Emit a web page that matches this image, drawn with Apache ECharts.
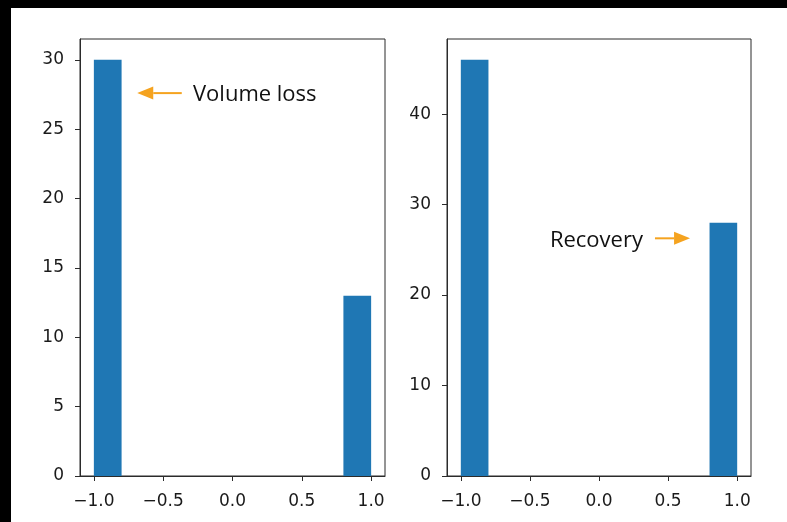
<!DOCTYPE html>
<html>
<head>
<meta charset="utf-8">
<script src="https://cdn.jsdelivr.net/npm/echarts@6/dist/echarts.min.js"></script>
<style>
  html { margin: 0; padding: 0; background: #fff; width: 100%; height: 100%; }
  body { margin: 0; padding: 0; background: #fff; width: 100%; height: 100%; position: relative; }
  #chart { position: absolute; left: 11px; top: 8px; width: 776px; height: 514px; background: #fff; }
  .edge { position: absolute; background: #000; }
</style>
</head>
<body>
<div class="edge" style="left:0;top:0;width:787px;height:8px"></div>
<div class="edge" style="left:0;top:0;width:11px;height:522px"></div>
<div id="chart"></div>
<script>
// Histogram bin edges shared by both panels
const binEdges = [-1.0, -0.8, -0.6, -0.4, -0.2, 0.0, 0.2, 0.4, 0.6, 0.8, 1.0];
// Counts per bin
const lossCounts = [30, 0, 0, 0, 0, 0, 0, 0, 0, 13];
const recoveryCounts = [46, 0, 0, 0, 0, 0, 0, 0, 0, 28];
// Tick values
const xTicks = [-1.0, -0.5, 0.0, 0.5, 1.0];
const lossYTicks = [0, 5, 10, 15, 20, 25, 30];
const recoveryYTicks = [0, 10, 20, 30, 40];
// Annotations in data coordinates of their panel
const lossNote = { text: 'Volume loss', tip: [-0.687, 27.6], tail: [-0.366, 27.6], textX: -0.285, side: 'right' };
const recoveryNote = { text: 'Recovery', tip: [0.659, 26.27], tail: [0.405, 26.27], textX: 0.318, side: 'left' };

const BAR = '#1f77b4';
const INK = '#1a1a1a';
const SPINE = '#2b2b2b';
const ORANGE = '#f5a31f';
const TICK_FONT = 'DejaVu Sans';

function bins(counts) {
  return counts.map((c, i) => [binEdges[i], binEdges[i + 1], c]);
}

function fmtX(v) {
  return v.toFixed(1).replace('-', '\u2212');
}

function xAxis(gridIndex) {
  return {
    type: 'value', gridIndex, min: -1.1, max: 1.1,
    splitLine: { show: false },
    axisLine: { show: true, lineStyle: { color: SPINE, width: 1 } },
    axisTick: { show: true, length: 5, customValues: xTicks, lineStyle: { color: SPINE, width: 1 } },
    axisLabel: { customValues: xTicks, formatter: fmtX, margin: 17, color: INK, fontFamily: TICK_FONT, fontSize: 17 }
  };
}

function yAxis(gridIndex, max, ticks) {
  return {
    type: 'value', gridIndex, min: 0, max,
    splitLine: { show: false },
    axisLine: { show: true, onZero: false, lineStyle: { color: SPINE, width: 1 } },
    axisTick: { show: true, length: 5, customValues: ticks, lineStyle: { color: SPINE, width: 1 } },
    axisLabel: { customValues: ticks, margin: 16, color: INK, fontFamily: TICK_FONT, fontSize: 17 }
  };
}

function histSeries(idx, counts) {
  return {
    type: 'custom', xAxisIndex: idx, yAxisIndex: idx,
    data: bins(counts),
    encode: { x: [0, 1], y: 2 },
    renderItem(params, api) {
      const c = api.value(2);
      if (!c) return null;
      const p0 = api.coord([api.value(0), c]);
      const p1 = api.coord([api.value(1), 0]);
      return {
        type: 'rect',
        shape: { x: p0[0], y: p0[1], width: p1[0] - p0[0], height: p1[1] - p0[1] },
        style: { fill: BAR }
      };
    }
  };
}

const chart = echarts.init(document.getElementById('chart'), null, { renderer: 'canvas', width: 776, height: 514 });
chart.setOption({
  animation: false,
  backgroundColor: '#fff',
  grid: [
    { left: 69, top: 31, width: 305, height: 437, show: true, borderColor: SPINE, borderWidth: 1, backgroundColor: 'transparent' },
    { left: 436, top: 31, width: 304, height: 437, show: true, borderColor: SPINE, borderWidth: 1, backgroundColor: 'transparent' }
  ],
  xAxis: [xAxis(0), xAxis(1)],
  yAxis: [yAxis(0, 31.5, lossYTicks), yAxis(1, 48.3, recoveryYTicks)],
  series: [histSeries(0, lossCounts), histSeries(1, recoveryCounts)]
});

// Annotation arrows and labels
function annotation(gridIndex, note) {
  const tip = chart.convertToPixel({ gridIndex }, note.tip);
  const tail = chart.convertToPixel({ gridIndex }, note.tail);
  const txt = chart.convertToPixel({ gridIndex }, [note.textX, note.tip[1]]);
  const dir = Math.sign(tail[0] - tip[0]);
  const headLen = 16, headHalf = 6.5;
  const baseX = tip[0] + dir * headLen;
  return [
    { type: 'line', shape: { x1: baseX, y1: tip[1], x2: tail[0], y2: tail[1] }, style: { stroke: ORANGE, lineWidth: 2 } },
    { type: 'polygon', shape: { points: [[tip[0], tip[1]], [baseX, tip[1] - headHalf], [baseX, tip[1] + headHalf]] }, style: { fill: ORANGE } },
    { type: 'text', x: txt[0], y: txt[1] + 2,
      style: { text: note.text, fill: '#111', font: '22px "Open Sans"', align: note.side === 'right' ? 'left' : 'right', verticalAlign: 'middle' } }
  ];
}

chart.setOption({ graphic: annotation(0, lossNote).concat(annotation(1, recoveryNote)) });
</script>
</body>
</html>
